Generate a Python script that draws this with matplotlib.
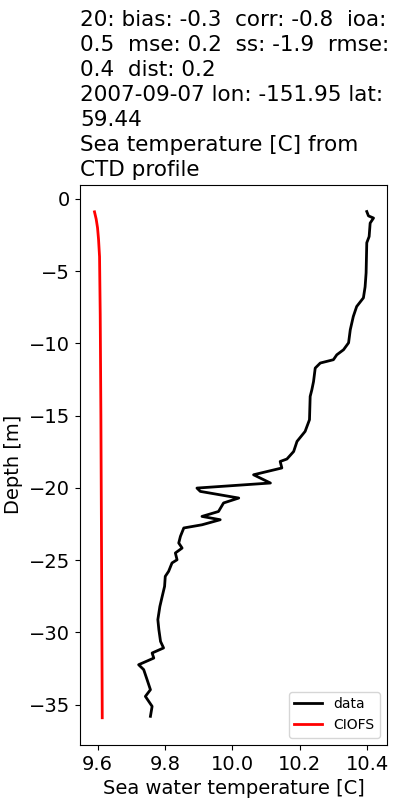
import matplotlib
matplotlib.use("Agg")
import matplotlib.pyplot as plt

# Observed CTD profile (temperature, depth)
data_temp = [10.399, 10.404, 10.419, 10.409, 10.406, 10.399, 10.397, 10.394, 10.389,
             10.369, 10.359, 10.350, 10.345, 10.330, 10.310, 10.300, 10.261, 10.246,
             10.241, 10.236, 10.231, 10.229, 10.216, 10.192, 10.182, 10.162, 10.142,
             10.147, 10.063, 10.113, 9.895, 9.905, 10.019, 9.974, 9.959, 9.910, 9.964,
             9.910, 9.856, 9.846, 9.841, 9.851, 9.831, 9.836, 9.821, 9.811, 9.801,
             9.799, 9.792, 9.785, 9.779, 9.782, 9.787, 9.796, 9.762, 9.767, 9.722,
             9.737, 9.747, 9.757, 9.742, 9.762, 9.757]
data_depth = [-0.88, -1.18, -1.33, -1.68, -2.61, -3.04, -5.12, -6.09, -6.85,
              -7.45, -8.14, -9.06, -9.96, -10.44, -10.79, -11.13, -11.36, -11.71,
              -12.64, -13.21, -13.67, -15.28, -16.09, -16.78, -17.48, -18.00, -18.17,
              -18.62, -19.09, -19.66, -20.01, -20.24, -20.70, -21.04, -21.63, -21.97, -22.20,
              -22.55, -22.77, -23.35, -23.81, -24.16, -24.50, -24.97, -25.19, -25.77, -26.12,
              -26.81, -27.50, -28.20, -29.11, -29.80, -30.62, -31.07, -31.42, -31.77, -32.23,
              -32.57, -33.26, -33.96, -34.42, -35.11, -35.80]

# Model profile (CIOFS)
model_temp = [9.591, 9.596, 9.600, 9.603, 9.606, 9.608, 9.610, 9.612, 9.614]
model_depth = [-0.90, -1.40, -2.00, -2.80, -4.00, -8.00, -15.00, -25.00, -35.90]

title_text = ("20: bias: -0.3  corr: -0.8  ioa:\n0.5  mse: 0.2  ss: -1.9  rmse:\n"
              "0.4  dist: 0.2\n2007-09-07 lon: -151.95 lat:\n59.44\n"
              "Sea temperature [C] from\nCTD profile")

fig = plt.figure(figsize=(4, 8), dpi=100)
ax = fig.add_axes([0.2, 0.069, 0.7675, 0.7])
ax.plot(data_temp, data_depth, color="black", lw=2, label="data")
ax.plot(model_temp, model_depth, color="red", lw=2, label="CIOFS")
ax.set_xlim(9.548, 10.459)
ax.set_ylim(-37.77, 0.97)
ax.set_xticks([9.6, 9.8, 10.0, 10.2, 10.4])
ax.set_yticks([0, -5, -10, -15, -20, -25, -30, -35])
ax.tick_params(labelsize=14)
ax.set_xlabel("Sea water temperature [C]", fontsize=14)
ax.set_ylabel("Depth [m]", fontsize=14)
ax.set_title(title_text, loc="left", fontsize=15.5, linespacing=1.32)
ax.legend(loc="lower right", fontsize=10)
fig.savefig("out.png", dpi=100)
